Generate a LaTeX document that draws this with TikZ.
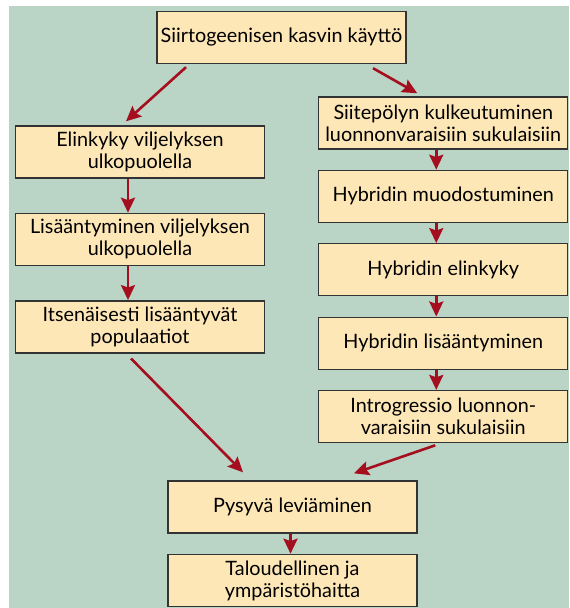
\documentclass[tikz,border=0pt]{standalone}
\usepackage{fontspec}
\setmainfont{Lato}
\usepackage{xcolor}
\usepackage{tikz}
\usetikzlibrary{arrows.meta,positioning,calc}

\definecolor{taustavihrea}{HTML}{BAD5C5}
\definecolor{laatikko}{HTML}{FEE7B6}
\definecolor{nuolenpuna}{HTML}{A50E1E}
\definecolor{reuna}{HTML}{333333}

\begin{document}
\begin{tikzpicture}[x=0.5pt, y=-0.5pt, node distance=10pt,
        box/.style={rectangle, draw=reuna, line width=0.7pt, fill=laatikko, minimum width=124.5pt, minimum height=26pt, inner sep=1pt, align=center, font=\fontsize{9.9}{11}\selectfont},
        arrow/.style={-{Stealth[length=7.5pt,width=7pt,inset=1.2pt]}, line width=1.3pt, draw=nuolenpuna}]

        % tausta
        \useasboundingbox (0,0) rectangle (569,608);
        \fill[taustavihrea] (9,6) rectangle (569,608);

        \node[box] (kaytto) at (281.5,37.5) {Siirtogeenisen kasvin käyttö};

        % vasen haara
        \node[box] (elinkyky) at (140,152) {Elinkyky viljelyksen\\ulkopuolella};
        \node[box, below=17pt of elinkyky] (lisaantyminen) {Lisääntyminen viljelyksen\\ulkopuolella};
        \node[box, below=17pt of lisaantyminen] (populaatiot) {Itsenäisesti lisääntyvät\\populaatiot};

        % oikea haara
        \node[box] (siitepoly) at (443.25,123) {Siitepölyn kulkeutuminen\\luonnonvaraisiin sukulaisiin};
        \node[box, below=of siitepoly] (muodostuminen) {Hybridin muodostuminen};
        \node[box, below=of muodostuminen] (helinkyky) {Hybridin elinkyky};
        \node[box, below=of helinkyky] (hlisaantyminen) {Hybridin lisääntyminen};
        \node[box, below=of hlisaantyminen] (introgressio) {Introgressio luonnon-\\varaisiin sukulaisiin};

        % alaosa
        \node[box] (leviaminen) at (292.5,507) {Pysyvä leviäminen};
        \node[box, below=of leviaminen] (haitta) {Taloudellinen ja\\ympäristöhaitta};

        \draw[arrow] ([xshift=-47.75pt,yshift=-1.5pt]kaytto.south) -- ([xshift=-7pt,yshift=2pt]elinkyky.north);
        \draw[arrow] ([xshift=45.75pt,yshift=-2pt]kaytto.south) -- ([xshift=-13pt,yshift=1.5pt]siitepoly.north);

        \draw[arrow] ([xshift=-6pt]elinkyky.south) -- ([xshift=-6pt]lisaantyminen.north);
        \draw[arrow] ([xshift=-6pt]lisaantyminen.south) -- ([xshift=-6pt]populaatiot.north);
        \draw[arrow] ([xshift=-4.5pt,yshift=-2.5pt]populaatiot.south) -- ([xshift=-24.75pt,yshift=4pt]leviaminen.north);

        \draw[arrow] ([xshift=-3.5pt]siitepoly.south) -- ([xshift=-3.5pt]muodostuminen.north);
        \draw[arrow] ([xshift=-3.5pt]muodostuminen.south) -- ([xshift=-3.5pt]helinkyky.north);
        \draw[arrow] ([xshift=-3.5pt]helinkyky.south) -- ([xshift=-3.5pt]hlisaantyminen.north);
        \draw[arrow] ([xshift=-3.5pt]hlisaantyminen.south) -- ([xshift=-3.5pt]introgressio.north);
        \draw[arrow] ([xshift=-4pt,yshift=-1pt]introgressio.south) -- ([xshift=30.75pt,yshift=3.5pt]leviaminen.north);

        \draw[arrow] ([xshift=-1pt]leviaminen.south) -- ([xshift=-1pt]haitta.north);

\end{tikzpicture}
\end{document}
